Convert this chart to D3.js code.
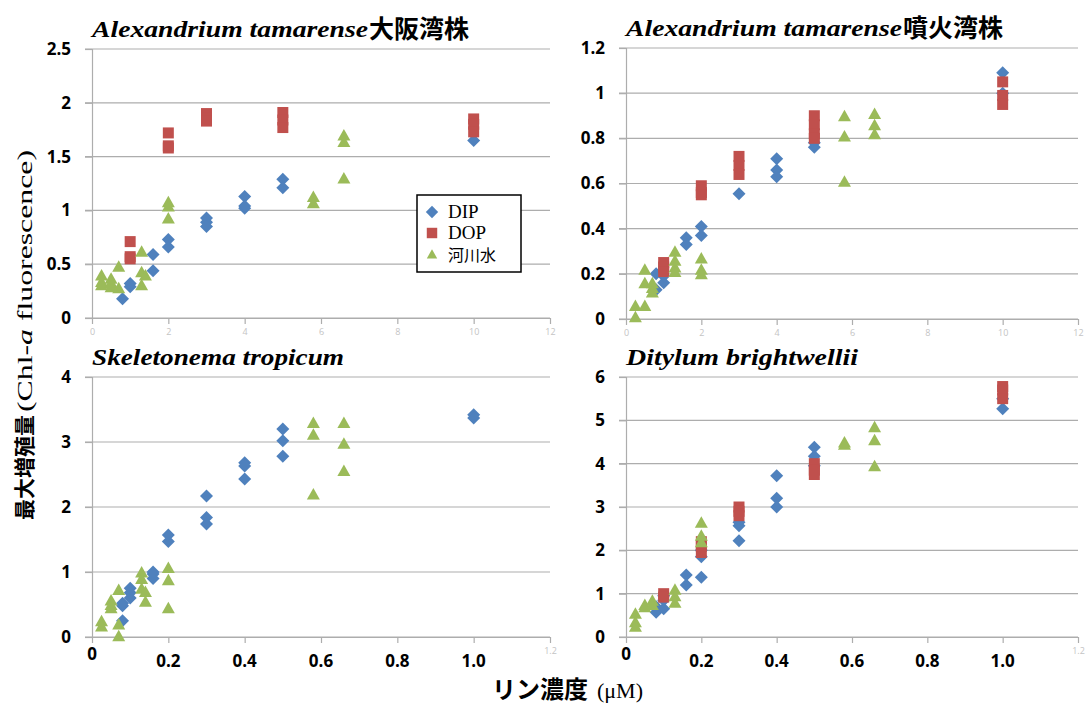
<!DOCTYPE html>
<html>
<head>
<meta charset="utf-8">
<script src="https://cdn.jsdelivr.net/npm/d3@7"></script>
<style>
  body { margin: 0; background: #fff; }
  svg { display: block; }
</style>
</head>
<body>
<svg id="chart" width="1086" height="706"></svg>
<script>
// ---- data (x = リン濃度 µM, y = Chl-a fluorescence) ----
const osakaDIP = [[0.08,0.18],[0.1,0.29],[0.1,0.32],[0.16,0.59],[0.16,0.44],[0.2,0.73],[0.2,0.66],[0.3,0.93],[0.3,0.89],[0.3,0.85],[0.4,1.13],[0.4,1.02],[0.4,1.04],[0.5,1.29],[0.5,1.21],[1.0,1.65]];
const osakaDOP = [[0.1,0.71],[0.1,0.57],[0.1,0.55],[0.2,1.72],[0.2,1.6],[0.2,1.58],[0.3,1.9],[0.3,1.86],[0.3,1.83],[0.5,1.91],[0.5,1.84],[0.5,1.77],[1.0,1.85],[1.0,1.8],[1.0,1.73]];
const osakaRiver = [[0.025,0.4],[0.025,0.31],[0.025,0.34],[0.05,0.37],[0.05,0.29],[0.05,0.33],[0.07,0.48],[0.07,0.28],[0.13,0.62],[0.13,0.43],[0.13,0.31],[0.14,0.4],[0.2,1.08],[0.2,1.04],[0.2,0.93],[0.58,1.13],[0.58,1.07],[0.66,1.7],[0.66,1.64],[0.66,1.3]];

const hiuchiDIP = [[0.08,0.2],[0.08,0.13],[0.1,0.16],[0.1,0.19],[0.16,0.36],[0.16,0.33],[0.2,0.41],[0.2,0.37],[0.3,0.555],[0.4,0.71],[0.4,0.66],[0.4,0.63],[0.5,0.78],[0.5,0.76],[1.0,1.09],[1.0,1.0]];
const hiuchiDOP = [[0.1,0.25],[0.1,0.23],[0.1,0.21],[0.2,0.59],[0.2,0.56],[0.2,0.55],[0.3,0.72],[0.3,0.68],[0.3,0.64],[0.5,0.9],[0.5,0.86],[0.5,0.82],[0.5,0.8],[1.0,1.05],[1.0,0.99],[1.0,0.95]];
const hiuchiRiver = [[0.025,0.06],[0.025,0.01],[0.05,0.06],[0.05,0.22],[0.05,0.16],[0.07,0.14],[0.07,0.16],[0.07,0.12],[0.13,0.3],[0.13,0.26],[0.13,0.23],[0.13,0.21],[0.2,0.27],[0.2,0.22],[0.2,0.2],[0.58,0.9],[0.58,0.81],[0.58,0.61],[0.66,0.91],[0.66,0.86],[0.66,0.82]];

const skeletonemaDIP = [[0.08,0.25],[0.08,0.48],[0.08,0.52],[0.1,0.6],[0.1,0.68],[0.1,0.75],[0.16,0.9],[0.16,0.97],[0.16,1.0],[0.2,1.47],[0.2,1.57],[0.3,2.17],[0.3,1.84],[0.3,1.74],[0.4,2.68],[0.4,2.63],[0.4,2.43],[0.5,3.2],[0.5,3.02],[0.5,2.78],[1.0,3.42],[1.0,3.37]];
const skeletonemaDOP = [];
const skeletonemaRiver = [[0.025,0.25],[0.025,0.17],[0.05,0.57],[0.05,0.45],[0.05,0.5],[0.07,0.73],[0.07,0.2],[0.07,0.02],[0.13,1.0],[0.13,0.9],[0.13,0.75],[0.14,0.7],[0.14,0.55],[0.2,1.07],[0.2,0.88],[0.2,0.45],[0.58,3.3],[0.58,3.12],[0.58,2.2],[0.66,3.3],[0.66,2.98],[0.66,2.56]];

const ditylumDIP = [[0.08,0.57],[0.08,0.7],[0.1,0.65],[0.1,0.85],[0.1,0.95],[0.16,1.2],[0.16,1.43],[0.2,1.38],[0.2,1.85],[0.2,2.0],[0.3,2.22],[0.3,2.57],[0.3,2.65],[0.4,3.72],[0.4,3.2],[0.4,3.0],[0.5,4.38],[0.5,4.17],[0.5,3.95],[1.0,5.27],[1.0,5.5]];
const ditylumDOP = [[0.1,1.0],[0.1,0.92],[0.2,2.2],[0.2,2.1],[0.2,1.95],[0.3,3.0],[0.3,2.9],[0.3,2.8],[0.5,4.0],[0.5,3.85],[0.5,3.75],[1.0,5.78],[1.0,5.7],[1.0,5.5]];
const ditylumRiver = [[0.025,0.55],[0.025,0.35],[0.025,0.25],[0.05,0.75],[0.05,0.7],[0.07,0.85],[0.07,0.75],[0.13,1.1],[0.13,0.95],[0.13,0.8],[0.2,2.65],[0.2,2.35],[0.2,2.2],[0.58,4.5],[0.58,4.45],[0.66,4.85],[0.66,4.55],[0.66,3.95]];

// ---- ticks & labels ----
const xTicks = [0, 0.2, 0.4, 0.6, 0.8, 1.0, 1.2];
const faintTopLabels = ['0', '2', '4', '6', '8', '10', '12'];
const faintBottomLabels = ['', '', '', '', '', '', '1.2'];
const boldBottomLabels = ['0', '0.2', '0.4', '0.6', '0.8', '1.0', ''];
const yTicksOsaka = [0, 0.5, 1, 1.5, 2, 2.5];
const yTicksHiuchi = [0, 0.2, 0.4, 0.6, 0.8, 1, 1.2];
const yTicksSkeletonema = [0, 1, 2, 3, 4];
const yTicksDitylum = [0, 1, 2, 3, 4, 5, 6];

const seriesNames = ['DIP', 'DOP', '河川水'];
const seriesColors = ['#4f81bd', '#c0504d', '#9bbb59'];

const svg = d3.select('#chart');

const SERIF = '"Liberation Serif", "DejaVu Serif", serif';
const SANS = '"Open Sans", "Liberation Sans", sans-serif';
const CJK = '"Noto Sans CJK JP", sans-serif';

// Marker shapes in Excel style
const markerPath = [
    'M0,-6.5L6.5,0L0,6.5L-6.5,0Z',
    'M-5.5,-5.5H5.5V5.5H-5.5Z',
    'M0,-6L6.5,5.5H-6.5Z',
];

const panels = [
    { latin: 'Alexandrium tamarense', cjk: '大阪湾株', latinLen: 276,
      left: 92, top: 49, right: 550, bottom: 318, yMax: 2.5, yTicks: yTicksOsaka,
      faint: faintTopLabels, bold2: null, series: [osakaDIP, osakaDOP, osakaRiver] },
    { latin: 'Alexandrium tamarense', cjk: '噴火湾株', latinLen: 276,
      left: 626, top: 48, right: 1078, bottom: 319, yMax: 1.2, yTicks: yTicksHiuchi,
      faint: faintTopLabels, bold2: null, series: [hiuchiDIP, hiuchiDOP, hiuchiRiver] },
    { latin: 'Skeletonema tropicum', cjk: '', latinLen: 252,
      left: 92, top: 377, right: 550, bottom: 637, yMax: 4, yTicks: yTicksSkeletonema,
      faint: faintBottomLabels, bold2: boldBottomLabels, series: [skeletonemaDIP, skeletonemaDOP, skeletonemaRiver] },
    { latin: 'Ditylum brightwellii', cjk: '', latinLen: 232,
      left: 626, top: 377, right: 1078, bottom: 637, yMax: 6, yTicks: yTicksDitylum,
      faint: faintBottomLabels, bold2: boldBottomLabels, series: [ditylumDIP, ditylumDOP, ditylumRiver] },
];

panels.forEach((p) => {
    const x = d3.scaleLinear().domain([0, 1.2]).range([p.left, p.right]);
    const y = d3.scaleLinear().domain([0, p.yMax]).range([p.bottom, p.top]);
    const g = svg.append('g');

    // horizontal grid lines
    g.append('g')
        .selectAll('line')
        .data(p.yTicks)
        .join('line')
        .attr('x1', p.left - 7)
        .attr('x2', p.right)
        .attr('y1', (d) => y(d))
        .attr('y2', (d) => y(d))
        .attr('stroke', '#adadad')
        .attr('stroke-width', 1.2);

    // y axis
    const yAxis = d3.axisLeft(y)
        .tickValues(p.yTicks)
        .tickSize(7)
        .tickPadding(14)
        .tickFormat(d3.format('~g'));
    g.append('g')
        .attr('transform', `translate(${p.left},0)`)
        .call(yAxis)
        .call((a) => a.select('.domain').attr('stroke', '#adadad').attr('stroke-width', 1.2))
        .call((a) => a.selectAll('.tick line').attr('stroke', '#adadad').attr('stroke-width', 1.2))
        .call((a) => a.selectAll('.tick text')
            .attr('fill', '#000')
            .style('font-family', SANS)
            .style('font-size', '17px')
            .style('font-weight', 'bold'));

    // x axis (faint labels as in the original export)
    const xAxis = d3.axisBottom(x)
        .tickValues(xTicks)
        .tickSize(6)
        .tickSizeOuter(0)
        .tickPadding(5)
        .tickFormat((d, i) => p.faint[i]);
    g.append('g')
        .attr('transform', `translate(0,${p.bottom})`)
        .call(xAxis)
        .call((a) => a.select('.domain').attr('stroke', '#adadad').attr('stroke-width', 1.2))
        .call((a) => a.selectAll('.tick line').attr('stroke', '#adadad').attr('stroke-width', 1.2))
        .call((a) => a.selectAll('.tick text')
            .attr('fill', '#c4c4c4')
            .style('font-family', SANS)
            .style('font-size', '9px'));

    // bold overlay labels on the lower panels
    if (p.bold2) {
        g.append('g')
            .selectAll('text')
            .data(xTicks.filter((d, i) => p.bold2[i]))
            .join('text')
            .attr('x', (d) => x(d))
            .attr('y', (d, i) => p.bottom + (i === 0 ? 23 : 30))
            .attr('text-anchor', 'middle')
            .style('font-family', SANS)
            .style('font-size', '17px')
            .style('font-weight', 'bold')
            .text((d, i) => p.bold2[i]);
    }

    // markers
    p.series.forEach((pts, si) => {
        g.append('g')
            .selectAll('path')
            .data(pts)
            .join('path')
            .attr('transform', (d) => `translate(${x(d[0])},${y(d[1])})`)
            .attr('d', markerPath[si])
            .attr('fill', seriesColors[si]);
    });

    // title
    const titleY = p.top - 12;
    svg.append('text')
        .attr('x', p.left)
        .attr('y', titleY)
        .attr('textLength', p.latinLen)
        .attr('lengthAdjust', 'spacingAndGlyphs')
        .style('font-family', SERIF)
        .style('font-style', 'italic')
        .style('font-weight', 'bold')
        .style('font-size', '23px')
        .text(p.latin);
    if (p.cjk) {
        svg.append('text')
            .attr('x', p.left + p.latinLen + 1)
            .attr('y', titleY + 1)
            .style('font-family', CJK)
            .style('font-weight', 'bold')
            .style('font-size', '25px')
            .text(p.cjk);
    }
});

// legend
const legend = svg.append('g').attr('transform', 'translate(417,195)');
legend.append('rect')
    .attr('width', 104)
    .attr('height', 77)
    .attr('fill', '#fff')
    .attr('stroke', '#000')
    .attr('stroke-width', 1.5);
seriesNames.forEach((name, i) => {
    const item = legend.append('g').attr('transform', `translate(15,${17 + i * 21})`);
    item.append('path')
        .attr('d', markerPath[i])
        .attr('transform', i === 2 ? 'scale(0.8)' : 'scale(0.95)')
        .attr('fill', seriesColors[i]);
    item.append('text')
        .attr('x', 16)
        .attr('y', i === 2 ? 7 : 6)
        .style('font-family', i === 2 ? CJK : SERIF)
        .style('font-size', i === 2 ? '16px' : '19px')
        .text(name);
});

// y axis title (rotated)
const yTitle = svg.append('g').attr('transform', 'translate(32,520) rotate(-90)');
yTitle.append('text')
    .attr('x', 0)
    .attr('y', 0)
    .style('font-family', CJK)
    .style('font-weight', 'bold')
    .style('font-size', '21px')
    .text('最大増殖量');
const yTitleLatin = yTitle.append('text')
    .attr('x', 108)
    .attr('y', 0)
    .attr('textLength', 262)
    .attr('lengthAdjust', 'spacingAndGlyphs')
    .style('font-family', SERIF)
    .style('font-size', '22px');
yTitleLatin.append('tspan').text('(Chl-');
yTitleLatin.append('tspan').style('font-style', 'italic').text('a');
yTitleLatin.append('tspan').text(' fluorescence)');

// x axis title
svg.append('text')
    .attr('x', 492)
    .attr('y', 698)
    .style('font-family', CJK)
    .style('font-weight', 'bold')
    .style('font-size', '24px')
    .text('リン濃度');
svg.append('text')
    .attr('x', 597)
    .attr('y', 698)
    .style('font-family', SERIF)
    .style('font-size', '22px')
    .text('(μM)');
</script>
</body>
</html>
